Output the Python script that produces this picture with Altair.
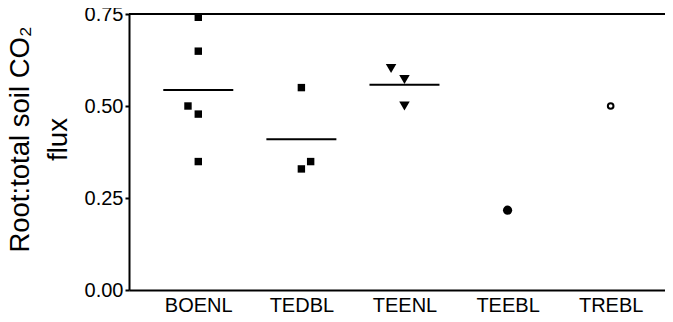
import altair as alt
import pandas as pd

groups = ["BOENL", "TEDBL", "TEENL", "TEEBL", "TREBL"]

boenl = [0.741, 0.649, 0.500, 0.478, 0.349]
tedbl = [0.550, 0.349, 0.329]
teenl = [0.602, 0.572, 0.500]
teebl = [0.217]
trebl = [0.500]

# small horizontal jitter (in category steps) as seen in the picture
boenl_jit = [0.0, 0.0, -0.1, 0.0, 0.0]
tedbl_jit = [0.0, 0.09, 0.0]
teenl_jit = [-0.13, 0.0, 0.0]
teebl_jit = [0.0]
trebl_jit = [0.0]

rows = []
for g, vals, jit in zip(groups, [boenl, tedbl, teenl, teebl, trebl],
                        [boenl_jit, tedbl_jit, teenl_jit, teebl_jit, trebl_jit]):
    idx = groups.index(g)
    for v, j in zip(vals, jit):
        rows.append({"group": g, "idx": idx, "xpos": idx + j, "value": v})
df = pd.DataFrame(rows)

label_expr = "[" + ",".join("'%s'" % g for g in groups) + "][datum.value]"

FONT = "Liberation Sans"

xscale = alt.Scale(domain=[-0.672, 4.527], nice=False, zero=False)
yscale = alt.Scale(domain=[0, 0.75], nice=False)

xaxis = alt.Axis(values=list(range(len(groups))), labelExpr=label_expr, title=None,
                 grid=False, ticks=False, labelPadding=5, labelFontSize=20,
                 labelColor="black", domainColor="black", domainWidth=2,
                 labelFont=FONT, labelBaseline="top")
yaxis = alt.Axis(values=[0, 0.25, 0.5, 0.75], format=".2f", grid=False,
                 tickSize=4, tickWidth=2, tickColor="black", labelPadding=2,
                 labelFontSize=20, labelColor="black", labelFont=FONT,
                 domainColor="black", domainWidth=2,
                 title=["Root:total soil CO\u2082", "flux"], titleFontSize=27.5,
                 titleFontWeight="normal", titleColor="black", titleFont=FONT,
                 titleLineHeight=38, titleBaseline="alphabetic", titleAlign="center",
                 titleAngle=270, titleX=-101, titleY=125)

base = alt.Chart(df)


def points(names, shape, size, filled=True, stroke_width=0):
    cond = " || ".join("datum.group == '%s'" % n for n in names)
    kw = dict(shape=shape, size=size, filled=filled, color="black", opacity=1)
    if not filled:
        kw["strokeWidth"] = stroke_width
    return base.transform_filter(cond).mark_point(**kw).encode(
        x=alt.X("xpos:Q", scale=xscale, axis=xaxis),
        y=alt.Y("value:Q", scale=yscale, axis=yaxis),
    )


squares = points(["BOENL", "TEDBL"], "square", 55)
triangles = points(["TEENL"], "triangle-down", 110)
dots = points(["TEEBL"], "circle", 85)
rings = points(["TREBL"], "circle", 32, filled=False, stroke_width=2)

means = base.transform_aggregate(
    mean="mean(value)", n="count()", groupby=["group", "idx"]
).transform_filter("datum.n > 1").mark_tick(
    orient="horizontal", size=70, thickness=2, color="black", opacity=1
).encode(
    x=alt.X("idx:Q", scale=xscale, axis=xaxis),
    y=alt.Y("mean:Q", scale=yscale, axis=yaxis),
)

top_line = alt.Chart(pd.DataFrame({"top": [0.75]})).mark_rule(
    color="black", strokeWidth=2
).encode(y=alt.Y("top:Q", scale=yscale, axis=yaxis))

chart = alt.layer(means, squares, triangles, dots, rings, top_line).properties(
    width=536, height=276,
    autosize=alt.AutoSizeParams(type="none"),
    padding={"left": 121, "top": 6, "right": 0, "bottom": 24},
    background="white",
).configure_view(stroke=None)

chart.save("out.html", embed_options={"renderer": "svg", "actions": False})
